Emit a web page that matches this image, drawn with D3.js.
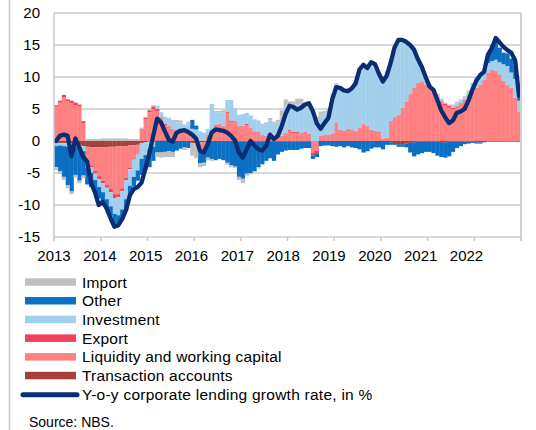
<!DOCTYPE html>
<html>
<head>
<meta charset="utf-8">
<script src="https://cdn.jsdelivr.net/npm/d3@7"></script>
<style>
  html, body { margin: 0; padding: 0; background: #fff; }
  svg { display: block; font-family: "Liberation Sans", Arial, sans-serif; }
</style>
</head>
<body>
<svg id="chart" width="536" height="430"></svg>
<script>
// ---- Data (monthly, Jan 2013 – Dec 2022), contributions in p.p. ----
const years = [2013, 2014, 2015, 2016, 2017, 2018, 2019, 2020, 2021, 2022];
const yTicks = [-15, -10, -5, 0, 5, 10, 15, 20];

const transaction = [
  -0.3,-0.3,-0.3,-0.3,-0.4,-0.4,-0.6,-0.8,-0.9,-1.0,-1.0,-1.0,
  -1.0,-1.0,-0.9,-0.9,-0.8,-0.8,-0.8,-0.7,-0.7,-0.6,-0.3,-0.2,
  -0.1,-0.1,0.1,0.1,0.1,0.1,0.0,0.0,0.0,0.0,0.0,-0.3,
  -0.3,-0.2,-0.2,-0.1,0.0,0.0,0.0,0.0,0.0,0.0,0.0,-0.1,
  -0.1,-0.1,-0.1,-0.1,-0.1,-0.1,-0.1,-0.1,-0.1,-0.1,-0.1,-0.1,
  -0.1,-0.1,-0.1,-0.1,-0.1,-0.1,0.0,0.0,0.0,0.0,0.0,0.0,
  0.0,0.0,0.0,0.0,0.0,0.0,0.0,0.0,0.0,0.0,0.0,0.0,
  0.0,0.0,-0.2,-0.3,-0.5,-0.5,-0.4,-0.3,-0.2,-0.1,-0.1,-0.1,
  -0.1,-0.1,-0.1,-0.3,-0.2,-0.1,-0.1,-0.1,-0.1,-0.1,-0.1,-0.1,
  -0.2,-0.2,-0.2,-0.1,-0.1,-0.1,-0.1,-0.1,-0.1,-0.1,-0.1,-0.1
];
const liquidity = [
  5.4,6.0,6.8,6.2,5.9,5.6,5.4,2.8,-2.3,-2.8,-3.7,-4.5,
  -5.2,-5.9,-6.6,-7.4,-7.5,-6.6,-5.0,-3.5,-2.0,-1.3,1.8,3.4,
  4.5,5.0,4.6,3.4,2.4,2.2,1.8,1.5,1.4,1.3,1.2,0.9,
  0.6,-1.2,-1.0,0.8,1.2,2.4,2.6,2.2,4.4,3.0,3.0,2.2,
  2.3,2.5,2.0,1.4,1.3,0.8,0.7,0.6,0.6,0.6,0.7,1.2,
  1.6,1.2,1.2,1.1,1.3,1.0,-1.8,-1.5,0.7,0.8,0.8,1.0,
  2.8,1.6,1.5,1.8,1.7,1.4,2.0,2.6,2.2,1.6,1.5,1.3,
  0.4,0.5,3.0,3.6,4.0,5.0,6.0,7.2,8.2,9.0,9.2,8.7,
  8.0,7.5,6.8,6.0,5.5,5.2,5.0,5.4,5.8,6.3,7.0,7.6,
  8.2,8.7,9.4,10.5,11.0,10.8,10.2,9.3,8.6,8.2,6.6,4.4
];
const exportC = [
  0.2,0.3,0.4,0.3,0.4,0.4,0.3,0.3,-0.2,-0.3,-0.4,-0.5,
  -0.4,-0.4,-0.5,-0.6,-0.5,-0.4,-0.3,-0.2,-0.2,-0.1,0.1,0.2,
  0.3,0.4,0.3,0.2,0.2,0.1,0.1,0.1,0.1,0.1,0.1,0.1,
  0.0,-0.3,-0.2,0.1,0.1,0.1,0.1,0.1,0.2,0.2,0.1,0.1,
  0.1,0.2,0.1,0.1,0.1,0.1,0.1,0.1,0.1,0.1,0.1,0.1,
  0.2,0.2,0.2,0.1,0.1,0.1,-0.5,-0.4,0.1,0.1,0.1,0.1,
  0.1,0.1,0.1,0.1,0.1,0.1,0.1,0.1,0.1,0.1,0.1,0.1,
  0.0,0.0,0.1,0.1,0.1,0.1,0.1,0.1,0.1,0.1,0.1,0.1,
  0.1,0.1,0.1,0.2,0.3,0.3,0.2,0.1,0.1,0.1,0.1,0.1,
  0.1,0.1,0.1,0.1,0.1,0.1,0.1,0.1,0.1,0.1,0.1,0.1
];
const investment = [
  -0.5,-0.4,-0.5,-0.6,-0.5,-0.5,-0.6,-0.8,-0.8,-0.9,-1.0,-1.2,
  -1.4,-1.8,-2.2,-2.5,-2.8,-2.9,-3.0,-2.6,-2.7,-2.6,-2.5,-2.0,
  -1.2,-0.8,0.5,0.8,1.1,1.2,1.4,1.3,1.4,1.2,1.3,0.9,
  1.2,1.5,1.3,1.0,4.5,2.0,1.8,2.2,1.8,3.2,2.0,1.8,
  1.8,1.7,1.9,1.9,1.8,1.8,1.8,2.5,2.0,2.2,3.0,4.3,
  3.8,4.0,4.3,4.3,3.8,3.6,4.0,3.4,3.2,3.4,3.8,6.0,
  5.9,6.6,6.2,6.0,6.4,7.6,8.5,9.3,9.4,9.8,10.0,8.5,
  8.8,10.2,9.2,10.8,11.6,10.5,9.3,7.2,5.6,3.3,1.7,0.7,
  0.4,0.4,0.3,0.2,0.0,0.0,0.3,0.4,0.4,0.4,0.6,1.2,
  1.6,1.7,1.3,1.6,1.4,1.8,2.0,2.6,3.0,2.4,3.0,1.8
];
const other = [
  -3.3,-4.0,-4.8,-6.0,-7.0,-4.4,-5.0,-3.8,-2.6,-2.2,-2.0,-1.8,
  -1.5,-1.5,-1.5,-1.8,-1.4,-1.5,-1.6,-1.4,-1.5,-1.6,-2.5,-2.3,
  -2.8,-2.2,-1.8,-1.8,-1.7,-1.6,-1.7,-1.5,-1.2,-1.0,-1.1,1.4,
  0.6,-1.8,-2.0,-2.5,-2.8,-3.0,-2.8,-3.0,-3.4,-3.8,-4.0,-5.5,
  -5.8,-5.0,-4.9,-4.6,-4.0,-3.5,-3.0,-2.6,-3.0,-2.0,-1.6,-1.4,
  -1.3,-1.3,-1.3,-1.1,-1.0,-1.0,-0.5,-0.6,-0.8,-0.7,-0.7,-0.8,
  -0.9,-0.8,-1.0,-0.8,-1.0,-1.1,-1.3,-1.8,-1.6,-1.2,-1.0,-1.0,
  -1.3,-0.6,-0.4,-0.3,-0.4,-0.4,-0.6,-1.5,-2.2,-2.0,-1.8,-1.6,
  -1.6,-1.8,-2.2,-2.2,-2.4,-2.3,-1.6,-1.0,-0.7,-0.4,-0.3,-0.2,
  -0.2,-0.2,0.2,1.4,2.5,2.8,2.3,1.8,2.0,2.2,2.2,0.4
];
const importC = [
  -0.4,-0.4,-0.5,-0.5,-0.4,-0.4,-0.4,-0.4,0.3,0.3,0.3,0.3,
  0.4,0.4,0.4,0.4,0.4,0.4,0.4,0.3,0.3,0.3,0.2,0.2,
  0.2,0.2,-0.7,-0.8,-0.8,-0.9,-0.8,0.4,0.3,-0.4,0.4,-2.0,
  -2.4,-0.6,-0.5,-0.4,-0.3,0.2,0.2,0.3,-0.3,-0.3,-0.2,-0.5,
  -0.7,-0.3,-0.2,-0.2,-0.2,-0.2,0.3,0.4,0.3,0.4,1.0,0.9,
  0.6,0.8,0.9,1.1,0.6,0.7,0.5,0.4,0.6,0.4,0.3,0.3,
  0.2,0.2,0.2,0.2,0.2,0.2,0.2,0.2,0.2,0.2,0.2,0.2,
  0.2,0.2,0.2,0.2,0.2,0.2,0.2,0.2,0.3,0.3,0.3,0.3,
  0.3,0.2,0.2,0.2,0.2,0.2,0.2,0.2,0.2,0.2,0.2,0.2,
  0.2,0.1,0.1,0.1,0.1,0.1,0.1,0.1,0.1,0.1,0.1,0.1
];
const growth = [
  0.0,0.8,1.0,0.8,-2.4,0.4,-1.0,-2.5,-3.2,-6.5,-8.0,-10.0,
  -9.5,-10.5,-12.0,-13.4,-13.2,-12.2,-10.8,-8.5,-7.5,-7.2,-6.5,-4.3,
  -2.0,0.8,3.5,2.9,1.5,0.2,-0.1,1.3,1.6,1.7,1.4,1.0,
  0.4,-1.5,-1.8,-0.5,1.3,1.8,1.7,1.6,1.3,0.8,0.1,-1.8,
  -2.6,-1.3,0.0,-0.7,-1.3,-1.5,-0.8,1.0,0.3,0.8,2.3,4.2,
  5.5,5.3,4.9,5.2,5.7,5.9,4.7,2.8,1.9,2.8,3.6,6.5,
  8.4,8.3,7.9,7.8,8.2,9.0,11.2,11.9,11.4,12.3,12.0,10.5,
  9.3,10.2,12.2,14.6,15.8,15.8,15.5,15.0,14.3,12.8,11.6,10.0,
  8.5,8.0,6.4,4.8,3.7,2.8,3.2,4.4,4.6,5.0,6.3,8.0,
  9.4,10.3,10.8,13.5,14.5,16.1,15.4,14.7,14.2,13.8,12.6,7.0
];

// series in stacking order (first = closest to zero)
const seriesKeys = ["Transaction accounts", "Liquidity and working capital", "Export", "Investment", "Other", "Import"];
const seriesValues = [transaction, liquidity, exportC, investment, other, importC];
const seriesColors = ["#a5403c", "#ff8080", "#f43f5c", "#a2d0ec", "#0b70c4", "#c0c0c0"];
const legendOrder = ["Import", "Other", "Investment", "Export", "Liquidity and working capital", "Transaction accounts"];
const lineLabel = "Y-o-y corporate lending growth rate, in %";
const lineColor = "#0a2d74";

(function draw() {
  const months = d3.range(growth.length);
  const rows = months.map(i => {
    const r = { i };
    seriesKeys.forEach((k, s) => r[k] = seriesValues[s][i]);
    return r;
  });

  const svg = d3.select("#chart");
  const pLeft = 54, pRight = 521, pTop = 13, pBottom = 237;

  const x = d3.scaleBand().domain(months).range([pLeft, pRight]).padding(0);
  const y = d3.scaleLinear().domain([-15, 20]).range([pBottom, pTop]);
  const yearTickPos = d3.scaleLinear().domain([0, years.length]).range([pLeft, pRight]);
  const yearLabelPos = d3.scaleLinear().domain([years[0], years[years.length - 1]]).range([54, 466.5]);

  // outer frame line on the left
  svg.append("line").attr("x1", 9.5).attr("x2", 9.5).attr("y1", 0).attr("y2", 430)
    .attr("stroke", "#c8c8c8").attr("stroke-width", 1.5);

  // gridlines
  svg.append("g").selectAll("line").data(yTicks).join("line")
    .attr("x1", pLeft).attr("x2", pRight)
    .attr("y1", d => y(d)).attr("y2", d => y(d))
    .attr("stroke", "#d9d9d9").attr("stroke-width", 2);

  // stacked bars
  const stack = d3.stack().keys(seriesKeys).offset(d3.stackOffsetDiverging);
  const stacked = stack(rows);
  svg.append("g").selectAll("g").data(stacked).join("g")
    .attr("fill", (d, k) => seriesColors[k])
    .selectAll("rect").data(d => d).join("rect")
    .attr("x", d => x(d.data.i))
    .attr("width", x.bandwidth() + 0.35)
    .attr("y", d => y(Math.max(d[0], d[1])))
    .attr("height", d => Math.abs(y(d[0]) - y(d[1])));

  // growth line
  const line = d3.line()
    .x((d, i) => x(i) + x.bandwidth() / 2)
    .y(d => y(d));
  svg.append("path").datum(growth)
    .attr("d", line)
    .attr("fill", "none")
    .attr("stroke", lineColor)
    .attr("stroke-width", 4.3)
    .attr("stroke-linejoin", "round")
    .attr("stroke-linecap", "round");

  // axes frame
  svg.append("line").attr("x1", pLeft).attr("x2", pLeft).attr("y1", pTop).attr("y2", pBottom + 4)
    .attr("stroke", "#c8c8c8").attr("stroke-width", 1.5);
  svg.append("line").attr("x1", pRight).attr("x2", pRight).attr("y1", pTop).attr("y2", pBottom + 4)
    .attr("stroke", "#d0d0d0").attr("stroke-width", 2);
  svg.append("g").selectAll("line").data(d3.range(years.length + 1)).join("line")
    .attr("x1", d => yearTickPos(d)).attr("x2", d => yearTickPos(d))
    .attr("y1", pBottom).attr("y2", pBottom + 4)
    .attr("stroke", "#c8c8c8").attr("stroke-width", 1.5);

  // y labels
  svg.append("g").selectAll("text").data(yTicks).join("text")
    .attr("x", 40).attr("y", d => y(d)).attr("dy", "0.36em")
    .attr("text-anchor", "end")
    .attr("font-size", 15).attr("fill", "#000")
    .text(d => d);

  // x labels
  svg.append("g").selectAll("text").data(years).join("text")
    .attr("x", d => yearLabelPos(d)).attr("y", 261)
    .attr("text-anchor", "middle")
    .attr("font-size", 15).attr("fill", "#000")
    .text(d => d);

  // legend
  const legY = d3.scaleLinear().domain([0, 1]).range([282, 300.7]);
  const lg = svg.append("g");
  legendOrder.forEach((name, j) => {
    const k = seriesKeys.indexOf(name);
    lg.append("rect").attr("x", 25).attr("y", legY(j) - 3.7).attr("width", 51).attr("height", 7.5)
      .attr("fill", seriesColors[k]);
    lg.append("text").attr("x", 82).attr("y", legY(j)).attr("dy", "0.36em")
      .attr("font-size", 15.5).attr("letter-spacing", "0.2px").attr("fill", "#000").text(name);
  });
  const lj = legendOrder.length;
  lg.append("line").attr("x1", 23).attr("x2", 77).attr("y1", legY(lj) + 0.5).attr("y2", legY(lj) + 0.5)
    .attr("stroke", lineColor).attr("stroke-width", 5).attr("stroke-linecap", "round");
  lg.append("text").attr("x", 82).attr("y", legY(lj) + 0.5).attr("dy", "0.36em")
    .attr("font-size", 15.5).attr("letter-spacing", "0.25px").attr("fill", "#000").text(lineLabel);

  svg.append("text").attr("x", 29).attr("y", 422).attr("dy", "0.36em")
    .attr("font-size", 14).attr("fill", "#000").text("Source:  NBS.");
})();
</script>
</body>
</html>
